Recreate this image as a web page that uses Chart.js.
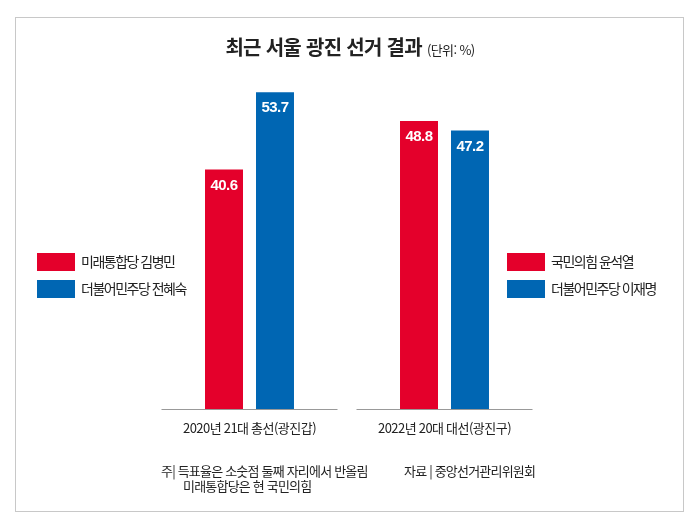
<!DOCTYPE html>
<html lang="ko">
<head>
<meta charset="utf-8">
<script src="https://cdn.jsdelivr.net/npm/chart.js@4.4.1/dist/chart.umd.min.js"></script>
<style>
  html, body { margin: 0; padding: 0; background: #fff; }
  #wrap { position: relative; width: 700px; height: 530px; font-family: "Noto Sans CJK KR", "Noto Sans", sans-serif; color: #222; }
  #frame { position: absolute; left: 15px; top: 17px; width: 667px; height: 493px; border: 1px solid #c8c8c8; }
  canvas { position: absolute; left: 0; top: 0; }
  .txt { position: absolute; white-space: nowrap; }
  #title { left: 0; width: 700px; top: 32px; text-align: center; font-size: 20px; font-weight: 700; letter-spacing: -0.7px; }
  #title span { font-size: 13px; font-weight: 400; letter-spacing: -0.6px; }
  .leg { position: absolute; font-size: 14px; letter-spacing: -1.5px; }
  .leg div { position: relative; height: 27px; line-height: 18px; white-space: nowrap; }
  .leg i { position: absolute; left: 0; top: 0; width: 38px; height: 18px; }
  .leg b { position: absolute; left: 44px; top: -1px; font-weight: 400; white-space: nowrap; }
  .note { font-size: 13px; letter-spacing: -0.8px; }
</style>
</head>
<body>
<div id="wrap">
  <div id="frame"></div>
  <canvas id="chart" width="700" height="530"></canvas>
  <div id="title" class="txt">최근 서울 광진 선거 결과 <span>(단위: %)</span></div>
  <div id="legLeft" class="leg" style="left:37px; top:253px;"></div>
  <div id="legRight" class="leg" style="left:507px; top:253px;"></div>
  <div class="txt note" style="left:161px; top:461px;">주| 득표율은 소숫점 둘째 자리에서 반올림</div>
  <div class="txt note" style="left:183px; top:476px;">미래통합당은 현 국민의힘</div>
  <div class="txt note" style="left:404px; top:461px;">자료 | 중앙선거관리위원회</div>
</div>
<script>
const categories = ['2020년 21대 총선(광진갑)', '2022년 20대 대선(광진구)'];
const redValues = [40.6, 48.8];
const blueValues = [53.7, 47.2];
const redNames = ['미래통합당 김병민', '국민의힘 윤석열'];
const blueNames = ['더불어민주당 전혜숙', '더불어민주당 이재명'];

const RED = '#e4002b';
const BLUE = '#0066b3';

// legends: left one for the first election, right one for the second
function makeLegend(id, i) {
  const el = document.getElementById(id);
  el.innerHTML =
    '<div><i style="background:' + RED + '"></i><b>' + redNames[i] + '</b></div>' +
    '<div><i style="background:' + BLUE + '"></i><b>' + blueNames[i] + '</b></div>';
}
makeLegend('legLeft', 0);
makeLegend('legRight', 1);

// baseline per category, category labels and values inside bars
const decor = {
  id: 'decor',
  afterDatasetsDraw(chart) {
    const ctx = chart.ctx;
    const x = chart.scales.x;
    const bottom = chart.chartArea.bottom;
    ctx.save();
    ctx.strokeStyle = '#999';
    ctx.lineWidth = 1;
    categories.forEach((c, i) => {
      const cx = x.getPixelForValue(i);
      ctx.beginPath();
      ctx.moveTo(cx - 88, bottom + 0.5);
      ctx.lineTo(cx + 88, bottom + 0.5);
      ctx.stroke();
      ctx.fillStyle = '#222';
      ctx.font = '13px "Noto Sans CJK KR"';
      ctx.letterSpacing = '-0.5px';
      ctx.textAlign = 'center';
      ctx.textBaseline = 'middle';
      ctx.fillText(c, cx, bottom + 19);
    });
    ctx.fillStyle = '#fff';
    ctx.font = 'bold 15px "Liberation Sans"';
    ctx.letterSpacing = '-0.5px';
    ctx.textAlign = 'center';
    ctx.textBaseline = 'middle';
    chart.data.datasets.forEach((ds, di) => {
      chart.getDatasetMeta(di).data.forEach((bar, i) => {
        ctx.fillText(ds.data[i].toFixed(1), bar.x, bar.y + 16);
      });
    });
    ctx.restore();
  }
};

new Chart(document.getElementById('chart'), {
  type: 'bar',
  data: {
    labels: categories,
    datasets: [
      { label: 'red', data: redValues, backgroundColor: RED },
      { label: 'blue', data: blueValues, backgroundColor: BLUE }
    ]
  },
  options: {
    responsive: false,
    animation: false,
    devicePixelRatio: 1,
    categoryPercentage: 0.523,
    barPercentage: 0.745,
    layout: { padding: { left: 152, right: 158, top: 55, bottom: 121 } },
    scales: {
      x: { display: false },
      y: { display: false, min: 0, max: 60 }
    },
    plugins: { legend: { display: false }, tooltip: { enabled: false } }
  },
  plugins: [decor]
});
</script>
</body>
</html>
